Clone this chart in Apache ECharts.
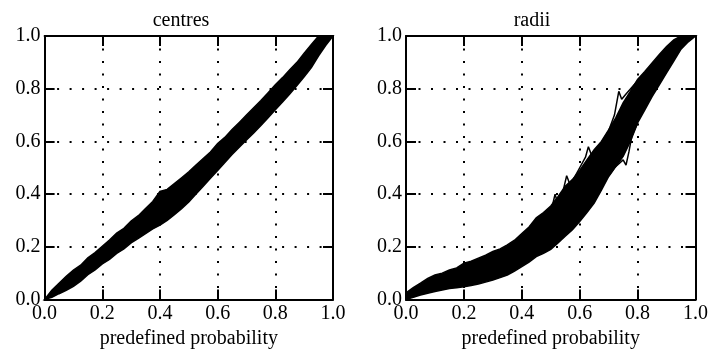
<!DOCTYPE html>
<html>
<head>
<meta charset="utf-8">
<script src="https://cdn.jsdelivr.net/npm/echarts@6/dist/echarts.min.js"></script>
<style>
html,body{margin:0;padding:0;background:#fff;}
#chart{width:710px;height:349px;}
</style>
</head>
<body>
<div id="chart"></div>
<script>
// predefined probability (x) sample positions
var probs = [0,0.025,0.05,0.075,0.1,0.125,0.15,0.175,0.2,0.225,0.25,0.275,0.3,0.325,0.35,0.375,0.4,0.425,0.45,0.475,0.5,0.525,0.55,0.575,0.6,0.625,0.65,0.675,0.7,0.725,0.75,0.775,0.8,0.825,0.85,0.875,0.9,0.925,0.95,0.975,1.0];

// centres: upper and lower envelope of the bundle of curves
var centresUpper = [0,0.035,0.062,0.088,0.112,0.13,0.158,0.178,0.202,0.226,0.252,0.27,0.298,0.318,0.345,0.372,0.41,0.418,0.44,0.462,0.485,0.51,0.535,0.56,0.592,0.615,0.645,0.672,0.7,0.728,0.755,0.785,0.815,0.842,0.872,0.9,0.935,0.968,1.0,1.0,1.0];
var centresLower = [0,0.008,0.022,0.035,0.05,0.07,0.094,0.112,0.135,0.152,0.175,0.192,0.215,0.232,0.25,0.268,0.282,0.3,0.322,0.345,0.37,0.4,0.43,0.46,0.49,0.52,0.55,0.578,0.605,0.632,0.66,0.69,0.72,0.75,0.78,0.812,0.845,0.88,0.925,0.965,1.0];

// radii: upper and lower envelope of the bundle of curves
var radiiUpper = [0.025,0.045,0.062,0.08,0.093,0.1,0.112,0.12,0.138,0.145,0.157,0.168,0.182,0.192,0.207,0.225,0.25,0.275,0.31,0.33,0.355,0.39,0.43,0.455,0.49,0.53,0.568,0.6,0.644,0.69,0.746,0.79,0.835,0.865,0.898,0.93,0.96,0.985,1.0,1.0,1.0];
var radiiLower = [0,0.008,0.017,0.024,0.03,0.036,0.042,0.045,0.048,0.053,0.059,0.066,0.074,0.083,0.093,0.108,0.125,0.142,0.163,0.175,0.19,0.215,0.24,0.265,0.296,0.33,0.366,0.415,0.467,0.505,0.543,0.6,0.67,0.72,0.77,0.815,0.86,0.905,0.95,0.978,1.0];

// individual radii curves that stick out of the bundle
var radiiCurveAX = [0.45,0.48,0.5,0.515,0.525,0.54,0.555,0.565,0.58,0.6,0.62,0.63,0.64,0.66,0.7,0.72,0.735,0.745,0.76,0.8];
var radiiCurveAY = [0.29,0.32,0.33,0.40,0.36,0.40,0.47,0.44,0.46,0.50,0.54,0.58,0.55,0.57,0.64,0.70,0.79,0.76,0.78,0.83];
var radiiCurveBX = [0.55,0.6,0.615,0.625,0.64,0.68,0.72,0.75,0.76,0.77,0.78,0.8];
var radiiCurveBY = [0.26,0.31,0.35,0.36,0.38,0.44,0.50,0.53,0.51,0.56,0.62,0.67];

var titles = ['centres','radii'];
var axisName = 'predefined probability';

var FONT = '"Liberation Serif", "Times New Roman", serif';

function pairs(xs, ys){ return xs.map(function(x,i){ return [x, ys[i]]; }); }

var grids = [
  {left:44.6, right:377, top:36, bottom:49.5, outerBoundsMode:'none', containLabel:false},
  {left:406, right:14.5, top:36, bottom:49.5, outerBoundsMode:'none', containLabel:false}
];

var xAxes = [], yAxes = [], series = [];
function axisBase(gi, pos, showLabels, split, margin, name){
  var a = {
    type:'value', gridIndex:gi, position:pos, min:0, max:1, interval:0.2,
    axisLine:{show:true, onZero:false, lineStyle:{color:'#000', width:2}},
    axisTick:{show:true, inside:true, length:10, lineStyle:{color:'#000', width:2}},
    axisLabel:{show:showLabels, color:'#000', fontFamily:FONT, fontSize:20, margin:margin,
      formatter:function(v){ return v.toFixed(1); }},
    splitLine:{show:split, lineStyle:{color:'#000', width:2, type:[2,10.5]}}
  };
  if (name){
    a.name = name; a.nameLocation = 'middle'; a.nameGap = 29;
    a.nameMoveOverlap = false;
    a.nameTextStyle = {color:'#000', fontFamily:FONT, fontSize:20};
  }
  return a;
}
for (var g=0; g<2; g++){
  xAxes.push(axisBase(g,'bottom',true,true,4,axisName));
  xAxes.push(axisBase(g,'top',false,false,3));
  yAxes.push(axisBase(g,'left',true,true,4));
  yAxes.push(axisBase(g,'right',false,false,3));
}

function band(gi, lower, upper){
  series.push({
    type:'custom', xAxisIndex:gi*2, yAxisIndex:gi*2, z:3,
    data:[[0,0]],
    renderItem:function(params, api){
      var pts = [], i;
      for (i=0; i<probs.length; i++) pts.push(api.coord([probs[i], upper[i]]));
      for (i=probs.length-1; i>=0; i--) pts.push(api.coord([probs[i], lower[i]]));
      return {type:'polygon', shape:{points:pts},
        style:{fill:'#000', stroke:'#000', lineWidth:1.5, lineJoin:'miter'}};
    }
  });
}
band(0, centresLower, centresUpper);
band(1, radiiLower, radiiUpper);
series.push({type:'line', xAxisIndex:2, yAxisIndex:2, symbol:'none',
  data:pairs(radiiCurveAX, radiiCurveAY), lineStyle:{color:'#000', width:1.5}, z:4});
series.push({type:'line', xAxisIndex:2, yAxisIndex:2, symbol:'none',
  data:pairs(radiiCurveBX, radiiCurveBY), lineStyle:{color:'#000', width:1.5}, z:4});

var chart = echarts.init(document.getElementById('chart'), null, {renderer:'canvas'});
chart.setOption({
  animation:false,
  backgroundColor:'#fff',
  title:[
    {text:titles[0], left:181, top:11, textAlign:'center', padding:0,
      textStyle:{color:'#000', fontFamily:FONT, fontSize:20, fontWeight:'normal'}},
    {text:titles[1], left:532, top:11, textAlign:'center', padding:0,
      textStyle:{color:'#000', fontFamily:FONT, fontSize:20, fontWeight:'normal'}}
  ],
  grid:grids,
  xAxis:xAxes,
  yAxis:yAxes,
  series:series
});
</script>
</body>
</html>
